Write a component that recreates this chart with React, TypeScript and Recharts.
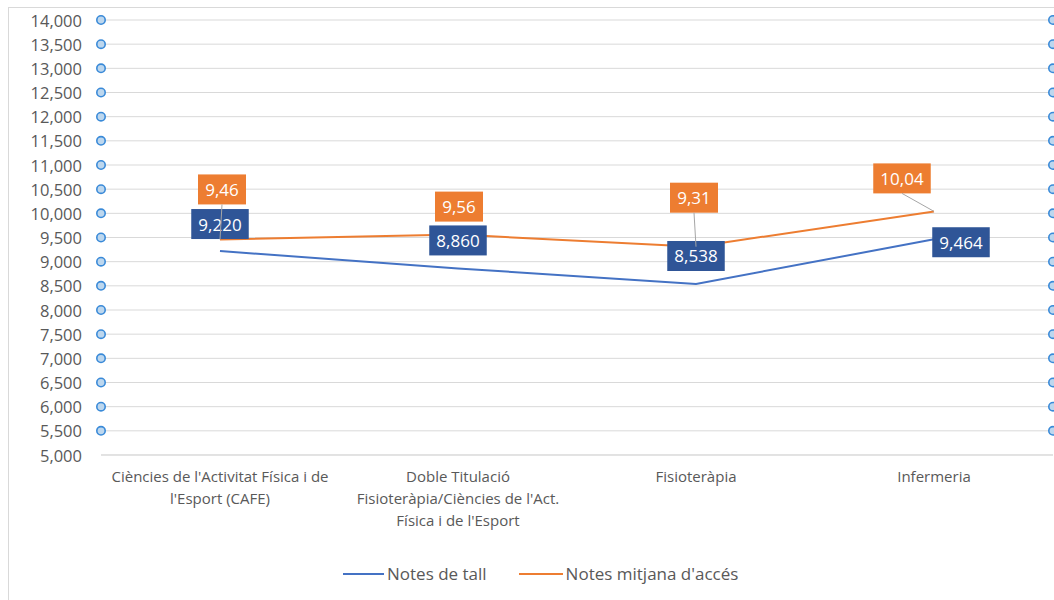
import React from "react";
import { CartesianGrid, LabelList, Line, LineChart, XAxis, YAxis } from "recharts";

// Notes de tall vs notes mitjanes d'accés per titulació
const categories = [
  "Ciències de l'Activitat Física i de\nl'Esport (CAFE)",
  "Doble Titulació\nFisioteràpia/Ciències de l'Act.\nFísica i de l'Esport",
  "Fisioteràpia",
  "Infermeria",
];
const notesTall = [9.22, 8.86, 8.538, 9.464];
const notesMitjana = [9.46, 9.56, 9.31, 10.04];
const yTicks = [5, 5.5, 6, 6.5, 7, 7.5, 8, 8.5, 9, 9.5, 10, 10.5, 11, 11.5, 12, 12.5, 13, 13.5, 14];
const seriesNames = ["Notes de tall", "Notes mitjana d'accés"];

const WIDTH = 1054;
const HEIGHT = 600;
const MARGIN = { top: 20, right: 1, left: 0, bottom: 0 };
const Y_AXIS_W = 101;
const X_AXIS_H = 145;
const PLOT_LEFT = MARGIN.left + Y_AXIS_W;
const PLOT_RIGHT = WIDTH - MARGIN.right;

const BLUE = "#4472C4";
const ORANGE = "#ED7D31";
const BLUE_BOX = "#2F5597";
const GRID = "#D9D9D9";
const TEXT = "#595959";
const FONT = "'Open Sans', 'Noto Sans', sans-serif";

// where each data label box sits relative to its point
const tallLabelPos = [
  { dx: 0, dy: -27 },
  { dx: 0, dy: -28 },
  { dx: 0, dy: -28 },
  { dx: 27, dy: 3 },
];
const mitjanaLabelPos = [
  { dx: 2, dy: -50, leader: true },
  { dx: 1, dy: -28 },
  { dx: -2, dy: -49, leader: true },
  { dx: -32, dy: -33, leader: true },
];

const data = categories.map((name, i) => ({
  name,
  tall: notesTall[i],
  mitjana: notesMitjana[i],
}));

const fmt = (v: number, d: number) => v.toFixed(d).replace(".", ",");

function ValueTick({ y, payload }: any) {
  const v = payload.value as number;
  return (
    <g>
      <text
        x={PLOT_LEFT - 19}
        y={y}
        textAnchor="end"
        dominantBaseline="central"
        fill={TEXT}
        fontSize={16.5}
        fontFamily={FONT}
      >
        {fmt(v, 3)}
      </text>
      {v > yTicks[0] ? (
        <>
          <circle cx={PLOT_LEFT} cy={y} r={4.2} fill="#BDD7EE" stroke="#3A8AD8" strokeWidth={1.6} />
          <circle cx={PLOT_RIGHT} cy={y} r={4.2} fill="#BDD7EE" stroke="#3A8AD8" strokeWidth={1.6} />
        </>
      ) : null}
    </g>
  );
}

function CategoryTick({ x, y, payload }: any) {
  const lines = String(payload.value).split("\n");
  return (
    <g transform={`translate(${x},${y})`}>
      <text textAnchor="middle" fill={TEXT} fontSize={15} fontFamily={FONT}>
        {lines.map((l, i) => (
          <tspan key={i} x={0} dy={i === 0 ? 19 : 22}>
            {l}
          </tspan>
        ))}
      </text>
    </g>
  );
}

function BoxLabel(props: any) {
  const { pos, fill, decimals, index } = props;
  const x = props.x ?? props.viewBox?.x;
  const y = props.y ?? props.viewBox?.y;
  const o = pos[index];
  if (x == null || y == null || !o) return null;
  const text = fmt(Number(props.value), decimals);
  const w = text.length * 9.5 + 10;
  const h = 30;
  const cx = x + o.dx;
  const cy = y + o.dy;
  return (
    <g>
      <rect x={cx - w / 2} y={cy - h / 2} width={w} height={h} fill={fill} />
      {o.leader ? <line x1={cx} y1={cy + h / 2} x2={x} y2={y} stroke="#A6A6A6" strokeWidth={1} /> : null}
      <text
        x={cx}
        y={cy}
        textAnchor="middle"
        dominantBaseline="central"
        fill="#FFFFFF"
        fontSize={17}
        fontFamily={FONT}
      >
        {text}
      </text>
    </g>
  );
}

function LegendRow() {
  const item = (color: string, label: string, lineW: number) => (
    <div style={{ display: "flex", alignItems: "center" }}>
      <span style={{ display: "block", width: lineW, height: 2, background: color, marginRight: 3 }} />
      <span>{label}</span>
    </div>
  );
  return (
    <div
      style={{
        position: "absolute",
        left: 343,
        top: 562,
        display: "flex",
        gap: 32,
        fontFamily: FONT,
        fontSize: 17,
        color: TEXT,
        lineHeight: "24px",
      }}
    >
      {item(BLUE, seriesNames[0], 41)}
      {item(ORANGE, seriesNames[1], 44)}
    </div>
  );
}

export default function App() {
  return (
    <div style={{ position: "absolute", left: 0, top: 0, width: WIDTH, height: HEIGHT, background: "#fff" }}>
      <div
        style={{
          position: "absolute",
          left: 8,
          top: 7,
          right: 0,
          bottom: 0,
          borderLeft: `1px solid ${GRID}`,
          borderTop: `1px solid ${GRID}`,
        }}
      />
      <LineChart width={WIDTH} height={HEIGHT} data={data} margin={MARGIN} style={{ position: "absolute", left: 0, top: 0 }}>
        <CartesianGrid stroke={GRID} vertical={false} />
        <XAxis
          dataKey="name"
          scale="band"
          interval={0}
          height={X_AXIS_H}
          axisLine={{ stroke: GRID }}
          tickLine={false}
          tick={<CategoryTick />}
        />
        <YAxis
          width={Y_AXIS_W}
          domain={[5, 14]}
          ticks={yTicks}
          axisLine={false}
          tickLine={false}
          tick={<ValueTick />}
        />
        <Line dataKey="tall" stroke={BLUE} strokeWidth={2} dot={false} isAnimationActive={false} />
        <Line dataKey="mitjana" stroke={ORANGE} strokeWidth={2} dot={false} isAnimationActive={false} />
        {/* label-only passes so the boxes sit above both lines */}
        <Line dataKey="tall" stroke="none" dot={false} activeDot={false} isAnimationActive={false} legendType="none">
          <LabelList
            dataKey="tall"
            content={(p: any) => <BoxLabel {...p} pos={tallLabelPos} fill={BLUE_BOX} decimals={3} />}
          />
        </Line>
        <Line dataKey="mitjana" stroke="none" dot={false} activeDot={false} isAnimationActive={false} legendType="none">
          <LabelList
            dataKey="mitjana"
            content={(p: any) => <BoxLabel {...p} pos={mitjanaLabelPos} fill={ORANGE} decimals={2} />}
          />
        </Line>
      </LineChart>
      <LegendRow />
    </div>
  );
}
